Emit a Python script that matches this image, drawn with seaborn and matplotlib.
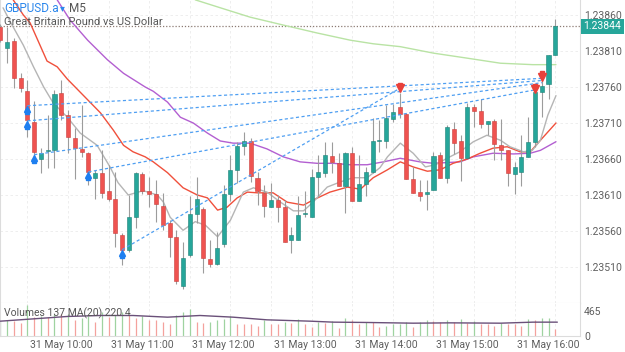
import matplotlib
matplotlib.use('Agg')
import matplotlib.pyplot as plt
import seaborn as sns
import numpy as np
import pandas as pd

# M5 candles, 31 May 09:15 -> 16:05
opens = [1.23843, 1.23814, 1.23824, 1.23772, 1.23754, 1.23712, 1.23660, 1.23671, 1.23673, 1.23751,
         1.23721, 1.23689, 1.23674, 1.23669, 1.23634, 1.23641, 1.23615, 1.23605, 1.23555, 1.23534,
         1.23580, 1.23639, 1.23615, 1.23611, 1.23595, 1.23571, 1.23552, 1.23483, 1.23526, 1.23584,
         1.23590, 1.23521, 1.23514, 1.23542, 1.23612, 1.23645, 1.23678, 1.23685, 1.23633, 1.23613,
         1.23594, 1.23603, 1.23594, 1.23548, 1.23548, 1.23584, 1.23580, 1.23635, 1.23641, 1.23664,
         1.23655, 1.23623, 1.23668, 1.23602, 1.23625, 1.23642, 1.23685, 1.23685, 1.23716, 1.23732,
         1.23722, 1.23632, 1.23614, 1.23611, 1.23617, 1.23665, 1.23633, 1.23702, 1.23685, 1.23662,
         1.23732, 1.23726, 1.23709, 1.23713, 1.23680, 1.23672, 1.23639, 1.23642, 1.23663, 1.23683,
         1.23753, 1.23764, 1.23805]
highs = [1.23848, 1.23843, 1.23828, 1.23779, 1.23770, 1.23740, 1.23675, 1.23721, 1.23756, 1.23770,
         1.23728, 1.23703, 1.23735, 1.23670, 1.23645, 1.23672, 1.23652, 1.23642, 1.23557, 1.23610,
         1.23642, 1.23642, 1.23635, 1.23631, 1.23613, 1.23575, 1.23561, 1.23545, 1.23608, 1.23635,
         1.23594, 1.23548, 1.23559, 1.23624, 1.23666, 1.23684, 1.23697, 1.23689, 1.23642, 1.23624,
         1.23626, 1.23610, 1.23603, 1.23565, 1.23609, 1.23615, 1.23646, 1.23666, 1.23684, 1.23684,
         1.23668, 1.23670, 1.23676, 1.23666, 1.23649, 1.23717, 1.23714, 1.23735, 1.23737, 1.23752,
         1.23724, 1.23649, 1.23631, 1.23631, 1.23670, 1.23670, 1.23707, 1.23711, 1.23693, 1.23738,
         1.23737, 1.23743, 1.23713, 1.23715, 1.23715, 1.23673, 1.23656, 1.23693, 1.23719, 1.23756,
         1.23770, 1.23805, 1.23854]
lows = [1.23823, 1.23794, 1.23759, 1.23753, 1.23691, 1.23656, 1.23641, 1.23648, 1.23648, 1.23714,
        1.23668, 1.23632, 1.23663, 1.23624, 1.23605, 1.23606, 1.23601, 1.23538, 1.23513, 1.23531,
        1.23564, 1.23612, 1.23594, 1.23573, 1.23561, 1.23524, 1.23487, 1.23480, 1.23524, 1.23571,
        1.23501, 1.23510, 1.23513, 1.23538, 1.23601, 1.23626, 1.23666, 1.23628, 1.23596, 1.23580,
        1.23594, 1.23573, 1.23545, 1.23529, 1.23548, 1.23580, 1.23579, 1.23609, 1.23635, 1.23640,
        1.23622, 1.23585, 1.23602, 1.23602, 1.23609, 1.23640, 1.23670, 1.23675, 1.23712, 1.23717,
        1.23632, 1.23613, 1.23601, 1.23589, 1.23617, 1.23633, 1.23627, 1.23667, 1.23630, 1.23662,
        1.23705, 1.23703, 1.23693, 1.23659, 1.23659, 1.23622, 1.23611, 1.23622, 1.23663, 1.23676,
        1.23719, 1.23743, 1.23805]
closes = [1.23825, 1.23822, 1.23772, 1.23758, 1.23714, 1.23670, 1.23669, 1.23672, 1.23750, 1.23721,
          1.23690, 1.23675, 1.23670, 1.23642, 1.23641, 1.23613, 1.23604, 1.23557, 1.23534, 1.23580,
          1.23640, 1.23616, 1.23611, 1.23598, 1.23569, 1.23552, 1.23490, 1.23522, 1.23583, 1.23605,
          1.23522, 1.23514, 1.23536, 1.23612, 1.23645, 1.23678, 1.23685, 1.23637, 1.23615, 1.23595,
          1.23603, 1.23594, 1.23545, 1.23554, 1.23582, 1.23585, 1.23635, 1.23642, 1.23665, 1.23656,
          1.23622, 1.23669, 1.23602, 1.23625, 1.23642, 1.23685, 1.23686, 1.23717, 1.23725, 1.23723,
          1.23632, 1.23613, 1.23609, 1.23614, 1.23664, 1.23633, 1.23704, 1.23682, 1.23662, 1.23732,
          1.23726, 1.23709, 1.23713, 1.23681, 1.23672, 1.23640, 1.23649, 1.23663, 1.23683, 1.23753,
          1.23761, 1.23805, 1.23844]
volumes = [270, 287, 280, 237, 564, 348, 361, 345, 410, 400,
           415, 287, 336, 361, 268, 441, 348, 379, 441, 379,
           336, 361, 299, 295, 256, 225, 379, 441, 502, 256,
           240, 256, 299, 317, 361, 225, 220, 215, 194, 287,
           225, 220, 256, 237, 317, 225, 175, 256, 237, 274,
           151, 336, 299, 213, 256, 250, 175, 194, 213, 225,
           256, 175, 256, 287, 274, 256, 287, 256, 317, 237,
           274, 225, 213, 194, 237, 225, 213, 194, 317, 287,
           330, 336, 137]

last_price = 1.23844

# moving averages sampled along the drawn lines (candle index, value)
gray_x = [0.4, 1.5, 3.4, 4.9, 6.4, 7.8, 9.9, 11.8, 14.3, 16.2, 17.4, 18.9, 21.1, 23.2, 24.1, 25.1,
          27.0, 28.8, 30.3, 32.1, 34.0, 35.9, 37.4, 39.4, 41.4, 43.3, 44.8, 46.2, 48.3, 50.2, 52.1,
          54.2, 56.1, 57.2, 59.1, 61.0, 62.8, 64.3, 66.0, 67.9, 69.9, 71.9, 73.9, 75.3, 77.3, 78.6,
          79.8, 80.9, 82.1]
gray_y = [1.23870, 1.23850, 1.23818, 1.23788, 1.23760, 1.23738, 1.23718, 1.23696, 1.23679, 1.23649,
          1.23627, 1.23610, 1.23616, 1.23610, 1.23600, 1.23579, 1.23561, 1.23573, 1.23568, 1.23552,
          1.23575, 1.23614, 1.23620, 1.23614, 1.23600, 1.23588, 1.23588, 1.23600, 1.23621, 1.23628,
          1.23634, 1.23634, 1.23648, 1.23663, 1.23682, 1.23668, 1.23649, 1.23652, 1.23661, 1.23670,
          1.23684, 1.23693, 1.23686, 1.23677, 1.23670, 1.23672, 1.23686, 1.23721, 1.23748]
red_x = [1.9, 3.4, 4.4, 6.9, 8.4, 9.9, 12.3, 14.8, 16.7, 18.2, 19.6, 21.4, 22.6, 24.7, 27.0, 29.1,
         30.6, 32.1, 33.5, 35.0, 36.5, 38.0, 40.3, 42.4, 44.8, 46.2, 48.7, 51.3, 53.2, 55.1, 57.2,
         59.1, 61.0, 63.1, 65.0, 66.9, 69.0, 70.9, 72.8, 74.9, 76.8, 78.3, 79.8, 82.1]
red_y = [1.23881, 1.23860, 1.23849, 1.23796, 1.23788, 1.23771, 1.23748, 1.23724, 1.23700, 1.23679,
         1.23670, 1.23663, 1.23656, 1.23641, 1.23620, 1.23610, 1.23606, 1.23589, 1.23593, 1.23606,
         1.23614, 1.23613, 1.23613, 1.23600, 1.23596, 1.23603, 1.23614, 1.23621, 1.23618, 1.23634,
         1.23645, 1.23656, 1.23649, 1.23643, 1.23645, 1.23654, 1.23660, 1.23668, 1.23675, 1.23677,
         1.23670, 1.23670, 1.23686, 1.23710]
purple_x = [8.4, 10.3, 12.9, 15.8, 18.2, 21.4, 22.6, 24.7, 26.6, 28.5, 30.6, 32.5, 34.4, 36.9, 39.4,
            41.8, 44.3, 46.8, 49.2, 51.7, 54.2, 56.6, 59.1, 62.0, 64.0, 67.9, 69.9, 72.8, 75.8, 78.3,
            79.8, 82.1]
purple_y = [1.23881, 1.23853, 1.23825, 1.23798, 1.23779, 1.23760, 1.23754, 1.23739, 1.23718, 1.23710,
            1.23696, 1.23685, 1.23682, 1.23682, 1.23674, 1.23663, 1.23656, 1.23654, 1.23654, 1.23652,
            1.23652, 1.23656, 1.23661, 1.23656, 1.23654, 1.23656, 1.23663, 1.23668, 1.23667, 1.23668,
            1.23672, 1.23684]
green_x = [28.8, 32.5, 36.9, 41.8, 46.8, 51.7, 55.1, 59.1, 64.0, 69.0, 73.9, 78.7, 82.1]
green_y = [1.23881, 1.23870, 1.23857, 1.23846, 1.23835, 1.23825, 1.23820, 1.23816, 1.23807, 1.23800,
           1.23793, 1.23791, 1.23791]

# volume MA(20) line
vma_x = [0, 4.9, 9.9, 14.8, 19.6, 24.7, 29.5, 34.4, 39.4, 45.8, 49.2, 54.2, 61.0, 66.5, 73.9, 78.7, 82.3]
vma_y = [274, 317, 361, 379, 379, 348, 379, 348, 299, 274, 256, 250, 237, 243, 237, 256, 256]

# closed trades: entry (candle, price) -> exit (candle, price)
entry_x = [4, 4, 5, 13, 18]
entry_p = [1.23734, 1.23713, 1.23666, 1.23642, 1.23534]
exit_x = [80, 80, 80, 79, 59]
exit_p = [1.23772, 1.23769, 1.23766, 1.23756, 1.23758]
sell_x = [59, 79, 80]
sell_p = [1.23758, 1.23757, 1.23774]

price_ticks = [1.23510, 1.23560, 1.23610, 1.23660, 1.23710, 1.23760, 1.23810, 1.23860]
vol_ticks = [0, 465]
time_ticks = [9, 21, 33, 45, 57, 69, 81]
time_labels = ['31 May 10:00', '31 May 11:00', '31 May 12:00', '31 May 13:00',
               '31 May 14:00', '31 May 15:00', '31 May 16:00']

sns.set_style('white')
plt.rcParams['font.family'] = ['Roboto', 'DejaVu Sans']

df = pd.DataFrame({'open': opens, 'high': highs, 'low': lows, 'close': closes, 'vol': volumes})
df['idx'] = np.arange(len(df))
up = df['close'] >= df['open']

GREEN = '#26a69a'
RED = '#ef5350'
GRID = '#ebebeb'
TXT = '#5f5f5f'

fig = plt.figure(figsize=(6.25, 3.52), dpi=100)
ax = fig.add_axes([0, 49 / 352, 580 / 625, 303 / 352])
axv = fig.add_axes([0, 16 / 352, 580 / 625, 33 / 352])

xmin, xmax = -0.05, 85.65
grid_x = np.arange(4, 84, 6)

# grid
for gx in grid_x:
    ax.axvline(gx, color=GRID, lw=0.6, ls=(0, (3, 3)), zorder=0)
    axv.axvline(gx, color=GRID, lw=0.6, ls=(0, (3, 3)), zorder=0)
for p in price_ticks:
    ax.axhline(p, color=GRID, lw=0.6, ls=(0, (3, 3)), zorder=0)

# moving averages
sns.lineplot(x=green_x, y=green_y, ax=ax, color='#b9e3a4', lw=1.0, sort=False, estimator=None, zorder=2)
sns.lineplot(x=purple_x, y=purple_y, ax=ax, color='#b35fd1', lw=1.0, sort=False, estimator=None, zorder=2)
sns.lineplot(x=red_x, y=red_y, ax=ax, color='#f0503c', lw=1.0, sort=False, estimator=None, zorder=2)
sns.lineplot(x=gray_x, y=gray_y, ax=ax, color='#b5b5b5', lw=1.0, sort=False, estimator=None, zorder=2)

# candles
ax.vlines(df['idx'], df['low'], df['high'], color='#9c9c9c', lw=0.8, zorder=3)
body = (df['close'] - df['open']).abs().clip(lower=0.000012)
bottom = df[['open', 'close']].min(axis=1)
ax.bar(df['idx'], body, bottom=bottom, width=0.6,
       color=np.where(up, GREEN, RED), edgecolor=np.where(up, '#1d8077', '#c8403d'),
       linewidth=0.4, zorder=4)

# trade lines and markers
for x0, p0, x1, p1 in zip(entry_x, entry_p, exit_x, exit_p):
    ax.plot([x0, x1], [p0, p1], color='#4f9ff2', lw=0.9, ls=(0, (2.5, 2)), zorder=5)
ax.plot(entry_x, [p - 0.00004 for p in entry_p], ls='none', marker='^', ms=5,
        color='#1e7ff0', zorder=6)
ax.plot(entry_x, [p - 0.00009 for p in entry_p], ls='none', marker='s', ms=3,
        color='#1e7ff0', zorder=6)
ax.plot(sell_x, sell_p, ls='none', marker='v', ms=5.5, color='#e8413b', zorder=6)
ax.plot(sell_x, [p + 0.00005 for p in sell_p], ls='none', marker='s', ms=3, color='#e8413b', zorder=6)

# last price line + label
ax.axhline(last_price, color='#8c7b73', lw=0.9, ls=(0, (1, 1.5)), zorder=1)
ax.annotate(f'{last_price:.5f}', xy=(1.0, last_price), xycoords=('axes fraction', 'data'),
            xytext=(2.5, 0), textcoords='offset points', va='center', ha='left',
            fontsize=7.5, color='white',
            bbox=dict(boxstyle='square,pad=0.25', fc=GREEN, ec='none'), annotation_clip=False)

ax.set_xlim(xmin, xmax)
ax.set_ylim(1.23460, 1.238808)
ax.yaxis.tick_right()
ax.set_yticks(price_ticks)
ax.set_yticklabels([f'{p:.5f}' for p in price_ticks])
ax.tick_params(axis='y', length=0, pad=3, labelsize=7.5, labelcolor=TXT)
ax.set_xticks([])
ax.set_xlabel('')
ax.set_ylabel('')
ax.spines['top'].set_visible(False)
for s in ['left', 'right', 'bottom']:
    ax.spines[s].set_color('#dcdcdc')
    ax.spines[s].set_linewidth(0.8)

# volumes (green when volume rises vs previous bar)
vcol = ['#9fd3a0'] + ['#9fd3a0' if volumes[i] > volumes[i - 1] else '#f4a19d'
                      for i in range(1, len(volumes))]
axv.vlines(df['idx'], 0, df['vol'], colors=vcol, lw=0.9, zorder=2)
sns.lineplot(x=vma_x, y=vma_y, ax=axv, color='#6a5079', lw=1.0, sort=False, estimator=None, zorder=3)
axv.set_xlim(xmin, xmax)
axv.set_ylim(0, 610)
axv.yaxis.tick_right()
axv.set_yticks(vol_ticks)
axv.set_yticklabels([str(v) for v in vol_ticks])
axv.tick_params(axis='y', length=0, pad=3, labelsize=7.5, labelcolor=TXT)
axv.set_xticks(time_ticks)
axv.set_xticklabels(time_labels)
axv.tick_params(axis='x', length=0, pad=3, labelsize=7.5, labelcolor=TXT)
axv.set_xlabel('')
axv.set_ylabel('')
axv.spines['top'].set_visible(False)
for s in ['left', 'right', 'bottom']:
    axv.spines[s].set_color('#dcdcdc')
    axv.spines[s].set_linewidth(0.8)

# header texts
fig.text(4 / 625, 1 - 8 / 352, 'GBPUSD.a', color='#2b87ec', fontsize=8.5, va='center', ha='left')
fig.text(60 / 625, 1 - 8 / 352, '▾', color='#2b87ec', fontsize=7, va='center', ha='left')
fig.text(69 / 625, 1 - 8 / 352, 'M5', color='#555555', fontsize=8.5, va='center', ha='left')
fig.text(4 / 625, 1 - 22 / 352, 'Great Britain Pound vs US Dollar', color='#555555',
         fontsize=8, va='center', ha='left')
fig.text(4 / 625, 1 - 313 / 352, 'Volumes 137 MA(20) 220.4', color='#555555',
         fontsize=7.5, va='center', ha='left')

fig.savefig('out.png', dpi=100)
